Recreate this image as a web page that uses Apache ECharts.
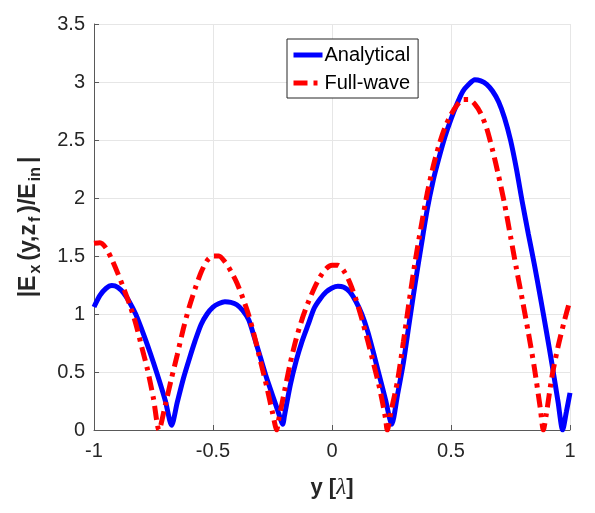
<!DOCTYPE html>
<html>
<head>
<meta charset="utf-8">
<script src="https://cdn.jsdelivr.net/npm/echarts@6/dist/echarts.min.js"></script>
<style>
  html, body { margin: 0; padding: 0; background: #fff; }
  #chart { width: 595px; height: 513px; }
</style>
</head>
<body>
<div id="chart"></div>
<script>
var myChart = echarts.init(document.getElementById('chart'));

// y [lambda] positions and |Ex| values
var xAnalytical = [-1, -0.975, -0.95, -0.925, -0.9, -0.875, -0.85, -0.825, -0.8, -0.775, -0.75, -0.725, -0.7, -0.674,
    -0.65, -0.625, -0.6, -0.575, -0.55, -0.525, -0.5, -0.475, -0.45, -0.425, -0.4, -0.375, -0.35, -0.325, -0.3, -0.275, -0.25, -0.225, -0.207,
    -0.2, -0.175, -0.15, -0.125, -0.1, -0.075, -0.05, -0.025, 0, 0.025, 0.05, 0.075, 0.1, 0.125, 0.15, 0.175, 0.2, 0.225, 0.251,
    0.275, 0.3, 0.325, 0.35, 0.375, 0.4, 0.425, 0.45, 0.475, 0.5, 0.525, 0.55, 0.575, 0.6, 0.625, 0.65, 0.675, 0.7, 0.725, 0.75,
    0.775, 0.8, 0.825, 0.85, 0.875, 0.9, 0.925, 0.95, 0.969, 0.985, 1];
var yAnalytical = [1.06, 1.16, 1.22, 1.245, 1.23, 1.18, 1.10, 1.0, 0.87, 0.73, 0.58, 0.42, 0.25, 0.04,
    0.24, 0.44, 0.61, 0.77, 0.91, 1.0, 1.06, 1.09, 1.105, 1.10, 1.08, 1.03, 0.95, 0.79, 0.62, 0.45, 0.30, 0.15, 0.05,
    0.12, 0.39, 0.6, 0.77, 0.91, 1.05, 1.13, 1.19, 1.225, 1.24, 1.23, 1.19, 1.11, 1.0, 0.85, 0.66, 0.46, 0.26, 0.05,
    0.3, 0.58, 0.93, 1.27, 1.59, 1.9, 2.15, 2.35, 2.53, 2.68, 2.81, 2.92, 2.98, 3.02, 3.01, 2.98, 2.92, 2.83, 2.69, 2.5,
    2.25, 1.96, 1.69, 1.43, 1.15, 0.86, 0.56, 0.24, 0.0, 0.16, 0.32];

var xFullwave = [-1, -0.975, -0.95, -0.925, -0.9, -0.875, -0.85, -0.825, -0.8, -0.775, -0.75, -0.727,
    -0.7, -0.675, -0.65, -0.625, -0.6, -0.575, -0.55, -0.525, -0.5, -0.475, -0.45, -0.425, -0.4, -0.375, -0.35, -0.325, -0.3, -0.275, -0.25, -0.232,
    -0.225, -0.2, -0.175, -0.15, -0.125, -0.1, -0.075, -0.05, -0.025, 0, 0.025, 0.05, 0.075, 0.1, 0.125, 0.15, 0.175, 0.2, 0.225, 0.232,
    0.25, 0.275, 0.3, 0.325, 0.35, 0.375, 0.4, 0.425, 0.45, 0.475, 0.5, 0.525, 0.55, 0.575, 0.6, 0.625, 0.65, 0.675, 0.7, 0.725, 0.75,
    0.775, 0.8, 0.825, 0.85, 0.875, 0.888, 0.9, 0.925, 0.95, 0.975, 1];
var yFullwave = [1.61, 1.615, 1.57, 1.47, 1.35, 1.22, 1.08, 0.92, 0.72, 0.52, 0.27, 0.0,
    0.22, 0.44, 0.65, 0.87, 1.06, 1.22, 1.36, 1.46, 1.5, 1.5, 1.45, 1.37, 1.27, 1.14, 0.99, 0.8, 0.59, 0.38, 0.15, 0.0,
    0.08, 0.33, 0.58, 0.79, 0.96, 1.1, 1.22, 1.32, 1.39, 1.42, 1.42, 1.37, 1.27, 1.13, 0.96, 0.77, 0.57, 0.36, 0.1, 0.0,
    0.18, 0.42, 0.76, 1.12, 1.46, 1.76, 2.04, 2.27, 2.46, 2.61, 2.72, 2.8, 2.85, 2.85, 2.81, 2.73, 2.6, 2.41, 2.19, 1.95, 1.67,
    1.39, 1.12, 0.84, 0.54, 0.19, 0.0, 0.13, 0.47, 0.72, 0.93, 1.12];

var seriesNames = ['Analytical', 'Full-wave'];

function pairs(xs, ys) {
    var out = [];
    for (var i = 0; i < xs.length; ++i) {
        out.push([xs[i], ys[i]]);
    }
    return out;
}

var axisColor = '#595959';
var textColor = '#262626';
var gridColor = '#e6e6e6';

myChart.setOption({
    animation: false,
    backgroundColor: '#fff',
    grid: {
        left: 94,
        right: 25,
        top: 24,
        bottom: 83
    },
    legend: {
        data: seriesNames,
        orient: 'vertical',
        left: 287,
        top: 39,
        itemWidth: 29,
        itemHeight: 14,
        itemGap: 8,
        padding: [6, 8, 5, 4],
        borderColor: '#262626',
        borderWidth: 1,
        backgroundColor: '#fff',
        itemStyle: { opacity: 0 },
        lineStyle: { width: 5 },
        textStyle: {
            fontFamily: 'Liberation Sans, Arial',
            fontSize: 20,
            color: '#000',
            padding: [0, 0, 0, -3]
        }
    },
    xAxis: {
        type: 'value',
        min: -1,
        max: 1,
        interval: 0.5,
        name: '{b|y [}{i|λ}{b|]}',
        nameLocation: 'middle',
        nameGap: 46,
        nameTextStyle: {
            rich: {
                b: { fontFamily: 'Liberation Sans, Arial', fontSize: 22, fontWeight: 'bold', color: textColor },
                i: { fontFamily: 'Liberation Serif, Times New Roman', fontSize: 23, fontStyle: 'italic', color: textColor }
            }
        },
        axisLine: { onZero: false, lineStyle: { color: axisColor, width: 1 } },
        axisTick: { inside: true, length: 5, lineStyle: { color: axisColor } },
        axisLabel: {
            fontFamily: 'Liberation Sans, Arial',
            fontSize: 20,
            color: textColor,
            margin: 11
        },
        splitLine: { show: true, lineStyle: { color: gridColor, width: 1 } }
    },
    yAxis: {
        type: 'value',
        min: 0,
        max: 3.5,
        interval: 0.5,
        name: '{b||E}{s|x}{b|(y,z}{s|f}{b|)/E}{s|in}{b||}',
        nameLocation: 'middle',
        nameGap: 50,
        nameTextStyle: {
            rich: {
                b: { fontFamily: 'Liberation Sans, Arial', fontSize: 23, fontWeight: 'bold', color: textColor, lineHeight: 31, verticalAlign: 'middle', padding: [0, 1, 0, 1] },
                s: { fontFamily: 'Liberation Sans, Arial', fontSize: 16, fontWeight: 'bold', color: textColor, lineHeight: 31, verticalAlign: 'bottom', padding: [0, 3, 0, 1] }
            }
        },
        axisLine: { show: true, onZero: false, lineStyle: { color: axisColor, width: 1 } },
        axisTick: { show: true, inside: true, length: 5, lineStyle: { color: axisColor } },
        axisLabel: {
            fontFamily: 'Liberation Sans, Arial',
            fontSize: 20,
            color: textColor,
            margin: 9
        },
        splitLine: { show: true, lineStyle: { color: gridColor, width: 1 } }
    },
    series: [
        {
            name: seriesNames[0],
            type: 'line',
            symbol: 'none',
            smooth: 0.25,
            data: pairs(xAnalytical, yAnalytical),
            lineStyle: { color: '#0000ff', width: 5 },
            itemStyle: { color: '#0000ff' }
        },
        {
            name: seriesNames[1],
            type: 'line',
            symbol: 'none',
            smooth: 0.25,
            data: pairs(xFullwave, yFullwave),
            lineStyle: { color: '#ff0000', width: 5, type: [14, 6, 4, 6] },
            itemStyle: { color: '#ff0000' }
        }
    ]
});
</script>
</body>
</html>
